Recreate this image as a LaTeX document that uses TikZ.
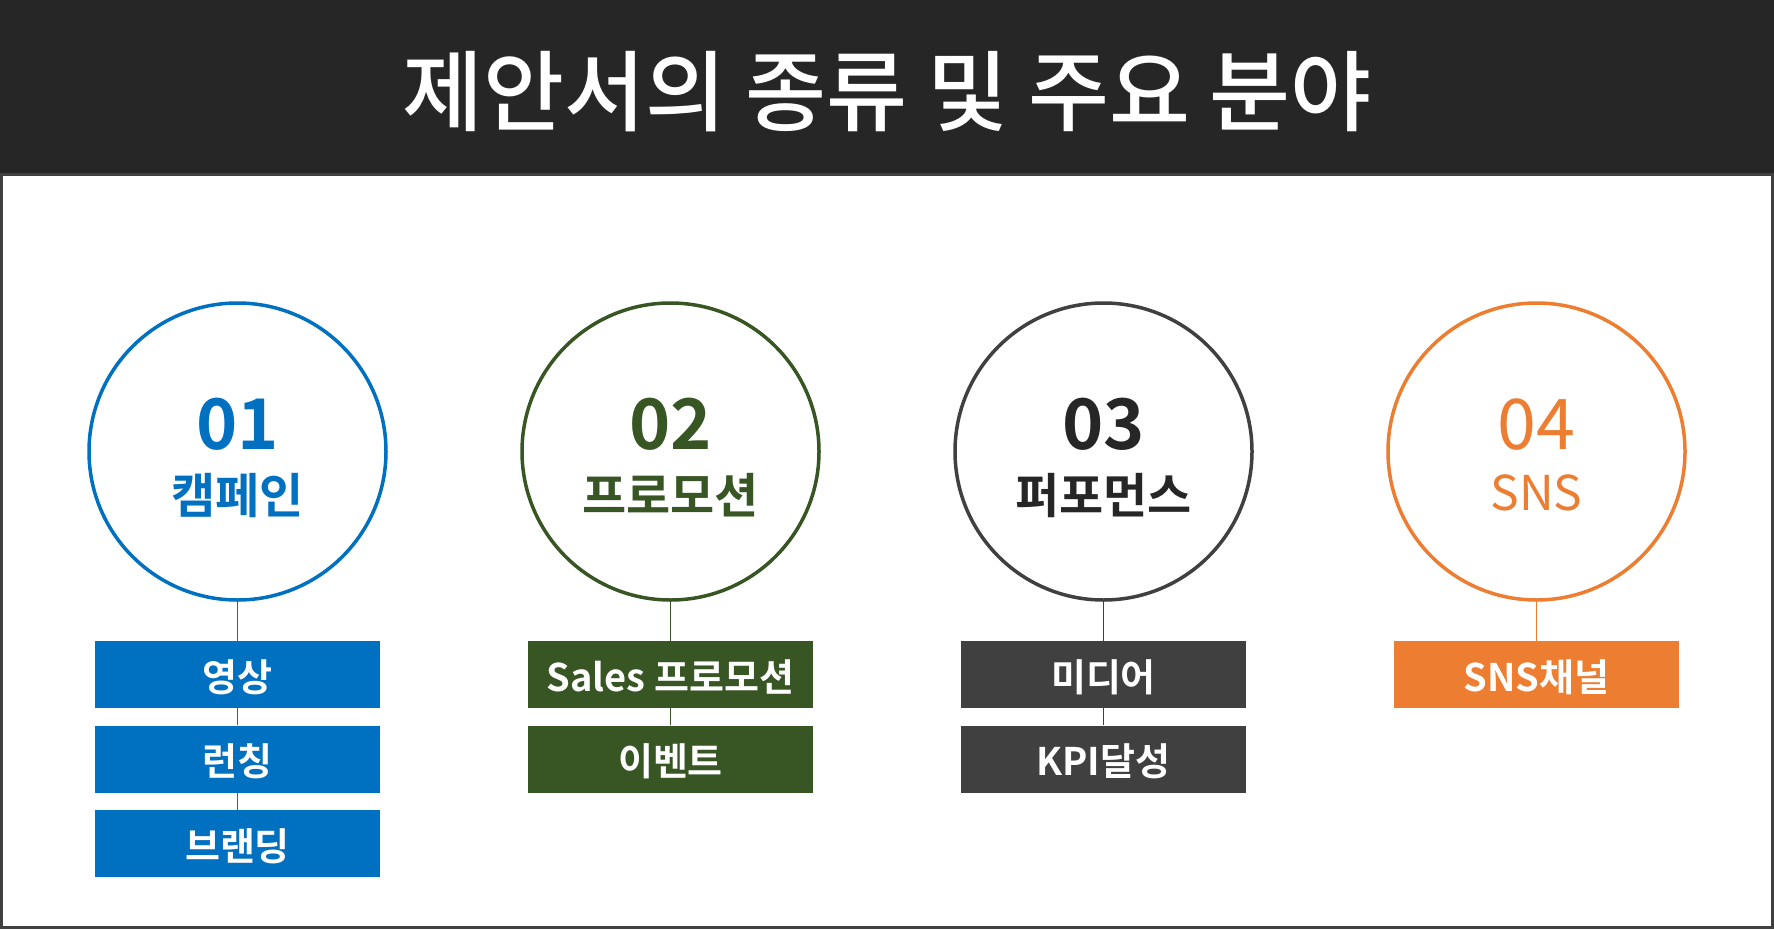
\documentclass[tikz,border=0pt]{standalone}
\usepackage{fontspec}
\setmainfont{Noto Sans CJK KR}[BoldFont={* Bold}]
\newfontfamily\krmed{Noto Sans CJK KR Medium}
\definecolor{titlebg}{HTML}{262626}
\definecolor{framecol}{HTML}{404040}
\definecolor{cblue}{HTML}{0070C0}
\definecolor{cgreen}{HTML}{375623}
\definecolor{cgray}{HTML}{404040}
\definecolor{cdark}{HTML}{262626}
\definecolor{corange}{HTML}{ED7D31}
\tikzset{
  ring/.style={circle, draw=#1, line width=3.5pt, minimum size=297pt, inner sep=0pt},
  itembox/.style={rectangle, fill=#1, text=white, minimum width=285pt, minimum height=67pt,
    inner sep=0pt, text height=38pt, text depth=5pt, font=\bfseries\fontsize{38}{40}\selectfont},
  numtext/.style={anchor=base, text=#1, font=\bfseries\fontsize{70}{72}\selectfont},
  numlight/.style={anchor=base, text=#1, font=\fontsize{70}{72}\selectfont},
  labeltext/.style={anchor=base, text=#1, font=\bfseries\fontsize{48}{50}\selectfont},
  labellight/.style={anchor=base, text=#1, font=\fontsize{48}{50}\selectfont},
  link/.style={draw=#1, line width=1pt}
}
\begin{document}
\begin{tikzpicture}[x=1pt,y=-1pt]
\useasboundingbox (0,0) rectangle (1774,929);
\fill[white] (0,0) rectangle (1774,929);
\fill[titlebg] (0,0) rectangle (1774,174);
\draw[framecol, line width=3pt] (1.5,174) rectangle (1772.5,927.5);
\node[anchor=base, text=white, font=\krmed\fontsize{88}{90}\selectfont] (title) at (887,124) {제안서의 종류 및 주요 분야};

% column 1
\node[ring=cblue] (c1) at (237.5,451.5) {};
\node[numtext=cblue] (n1) at (237.5,449) {01};
\node[labeltext=cblue] (l1) at (237.5,513) {캠페인};
\node[itembox=cblue] (b11) at (237.5,674.5) {영상};
\node[itembox=cblue] (b12) at (237.5,759) {런칭};
\node[itembox=cblue] (b13) at (237.5,843.5) {브랜딩};
\draw[link=cblue] (c1.south) -- (b11.north);
\draw[link=cblue] (b11.south) -- (b12.north);
\draw[link=cblue] (b12.south) -- (b13.north);

% column 2
\node[ring=cgreen] (c2) at (670.5,451.5) {};
\node[numtext=cgreen] (n2) at (670.5,449) {02};
\node[labeltext=cgreen] (l2) at (670.5,513) {프로모션};
\node[itembox=cgreen] (b21) at (670.5,674.5) {Sales 프로모션};
\node[itembox=cgreen] (b22) at (670.5,759) {이벤트};
\draw[link=cgreen] (c2.south) -- (b21.north);
\draw[link=cgreen] (b21.south) -- (b22.north);

% column 3
\node[ring=cgray] (c3) at (1103.5,451.5) {};
\node[numtext=cdark] (n3) at (1103.5,449) {03};
\node[labeltext=cdark] (l3) at (1103.5,513) {퍼포먼스};
\node[itembox=cgray] (b31) at (1103.5,674.5) {미디어};
\node[itembox=cgray] (b32) at (1103.5,759) {KPI달성};
\draw[link=cgray] (c3.south) -- (b31.north);
\draw[link=cgray] (b31.south) -- (b32.north);

% column 4
\node[ring=corange] (c4) at (1536.5,451.5) {};
\node[numlight=corange] (n4) at (1536.5,449) {04};
\node[labellight=corange] (l4) at (1536.5,510) {SNS};
\node[itembox=corange] (b41) at (1536.5,674.5) {SNS채널};
\draw[link=corange] (c4.south) -- (b41.north);
\end{tikzpicture}
\end{document}
